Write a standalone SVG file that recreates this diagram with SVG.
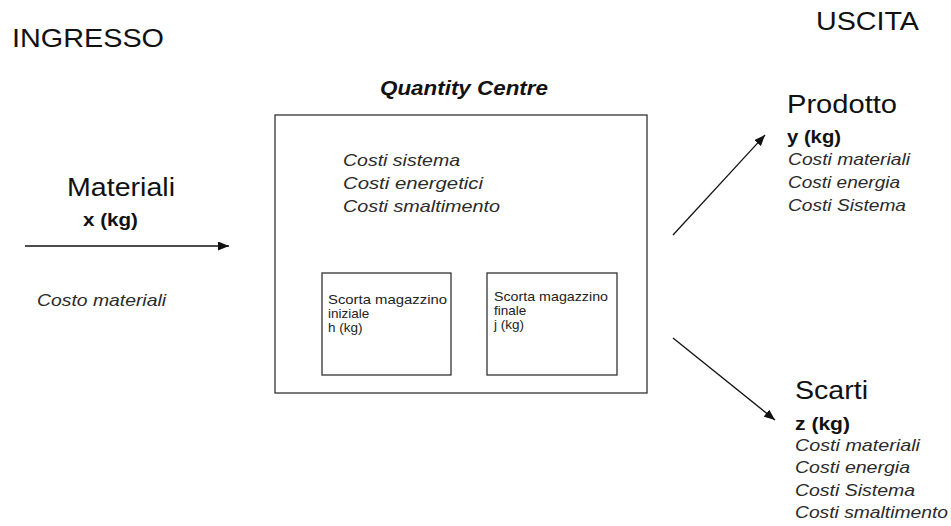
<svg xmlns="http://www.w3.org/2000/svg" width="951" height="526" viewBox="0 0 951 526">
  <defs>
    <marker id="arrowhead" markerUnits="userSpaceOnUse" markerWidth="11" markerHeight="9" refX="11" refY="4.5" orient="auto">
      <path d="M0,0 L11,4.5 L0,9 z" fill="#111"/>
    </marker>
  </defs>
  <style>
    text { font-family: "Liberation Sans", Arial, sans-serif; fill: #111; }
    .title { font-size: 26px; }
    .label { font-size: 25px; }
    .qty { font-size: 18px; font-weight: bold; }
    .cost { font-size: 17px; font-style: italic; fill: #2a2a2a; }
    .small { font-size: 13.5px; fill: #222; }
    .heading { font-size: 20px; font-weight: bold; font-style: italic; }
    .box { fill: none; stroke: #333; stroke-width: 1.3; }
    .connector { stroke: #111; stroke-width: 1.3; fill: none; marker-end: url(#arrowhead); }
  </style>
  <rect width="951" height="526" fill="#fff"/>

  <!-- column headings -->
  <text class="title" x="12" y="47" textLength="152" lengthAdjust="spacingAndGlyphs">INGRESSO</text>
  <text class="title" x="816" y="30" textLength="103" lengthAdjust="spacingAndGlyphs">USCITA</text>

  <!-- input: materials -->
  <g id="materiali">
    <text class="label" x="67" y="196" textLength="108" lengthAdjust="spacingAndGlyphs">Materiali</text>
    <text class="qty" x="83" y="226" textLength="55" lengthAdjust="spacingAndGlyphs">x (kg)</text>
    <text class="cost" x="37" y="306" textLength="129" lengthAdjust="spacingAndGlyphs">Costo materiali</text>
  </g>

  <!-- quantity centre -->
  <g id="quantity-centre">
    <text class="heading" x="380" y="95" textLength="168" lengthAdjust="spacingAndGlyphs">Quantity Centre</text>
    <rect class="box" x="275" y="115" width="372" height="278"/>
    <text class="cost" font-size="18" x="343" y="166" textLength="117" lengthAdjust="spacingAndGlyphs">Costi sistema</text>
    <text class="cost" x="343" y="189" textLength="140" lengthAdjust="spacingAndGlyphs">Costi energetici</text>
    <text class="cost" x="343" y="212" textLength="157" lengthAdjust="spacingAndGlyphs">Costi smaltimento</text>
  </g>

  <g id="scorta-iniziale">
    <rect class="box" x="322" y="273" width="129" height="102"/>
    <text class="small" x="328" y="304" textLength="119" lengthAdjust="spacingAndGlyphs">Scorta magazzino</text>
    <text class="small" x="328" y="318">iniziale</text>
    <text class="small" x="328" y="332">h (kg)</text>
  </g>

  <g id="scorta-finale">
    <rect class="box" x="487" y="273" width="130" height="102"/>
    <text class="small" x="494" y="301" textLength="114" lengthAdjust="spacingAndGlyphs">Scorta magazzino</text>
    <text class="small" x="494" y="315">finale</text>
    <text class="small" x="494" y="329">j (kg)</text>
  </g>

  <!-- outputs -->
  <g id="prodotto">
    <text class="label" x="787" y="113" textLength="110" lengthAdjust="spacingAndGlyphs">Prodotto</text>
    <text class="qty" x="787" y="143" textLength="54" lengthAdjust="spacingAndGlyphs">y (kg)</text>
    <text class="cost" x="788" y="165" textLength="122" lengthAdjust="spacingAndGlyphs">Costi materiali</text>
    <text class="cost" x="788" y="188" textLength="112" lengthAdjust="spacingAndGlyphs">Costi energia</text>
    <text class="cost" x="788" y="211" textLength="118" lengthAdjust="spacingAndGlyphs">Costi Sistema</text>
  </g>

  <g id="scarti">
    <text class="label" x="795" y="399" textLength="73" lengthAdjust="spacingAndGlyphs">Scarti</text>
    <text class="qty" x="795" y="430" textLength="55" lengthAdjust="spacingAndGlyphs">z (kg)</text>
    <text class="cost" x="795" y="451" textLength="125" lengthAdjust="spacingAndGlyphs">Costi materiali</text>
    <text class="cost" x="795" y="473" textLength="115" lengthAdjust="spacingAndGlyphs">Costi energia</text>
    <text class="cost" x="795" y="496" textLength="120" lengthAdjust="spacingAndGlyphs">Costi Sistema</text>
    <text class="cost" x="795" y="518" textLength="153" lengthAdjust="spacingAndGlyphs">Costi smaltimento</text>
  </g>

  <!-- flows -->
  <g id="connectors">
    <line class="connector" x1="25" y1="246" x2="229" y2="246"/>
    <line class="connector" x1="673" y1="235" x2="765" y2="135"/>
    <line class="connector" x1="673" y1="338" x2="775" y2="420"/>
  </g>
</svg>
